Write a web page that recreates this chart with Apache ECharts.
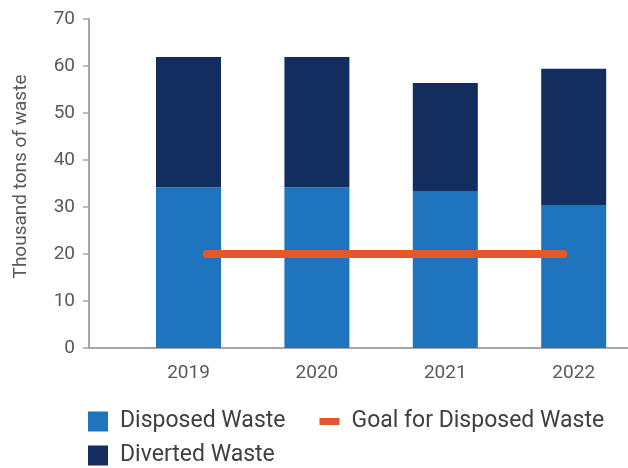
<!DOCTYPE html>
<html><head><meta charset="utf-8">
<script src="https://cdn.jsdelivr.net/npm/echarts@6/dist/echarts.min.js"></script>
<style>html,body{margin:0;padding:0;background:#fff}#c{width:628px;height:468px}</style>
</head><body><div id="c"></div>
<script>
const years = ['2019', '2020', '2021', '2022'];
const disposed = [34.2, 34.2, 33.4, 30.4];
const diverted = [27.7, 27.7, 23.0, 29.0];
const goalValue = 20;
const goalSpan = [0.14, 2.92]; // goal line runs between these category positions
const yMin = 0, yMax = 70, yStep = 10;

const FONT = 'Roboto';
const GREY = '#595959';
const AXIS = '#a6a6a6';

const chart = echarts.init(document.getElementById('c'), null, {renderer: 'canvas'});
chart.setOption({
  animation: false,
  textStyle: {fontFamily: FONT},
  grid: [
    {left: 89, right: 0, top: 19, bottom: 120, outerBoundsMode: 'none'},
    {left: 124.3, width: 513.6, top: 19, bottom: 120, outerBoundsMode: 'none'}
  ],
  xAxis: [{
    gridIndex: 0, type: 'value', min: -0.776, max: 3.423,
    splitLine: {show: false}, axisTick: {show: false}, axisLabel: {show: false},
    axisLine: {show: true, lineStyle: {color: AXIS, width: 2}}
  }, {
    gridIndex: 1, type: 'category', data: years,
    axisLine: {show: false}, axisTick: {show: false},
    axisLabel: {color: GREY, fontSize: 19, fontFamily: FONT, margin: 16}
  }],
  yAxis: [{
    gridIndex: 0, type: 'value', min: yMin, max: yMax, interval: yStep,
    name: 'Thousand tons of waste', nameLocation: 'middle', nameGap: 58,
    nameTextStyle: {color: GREY, fontSize: 19, fontFamily: FONT, padding: [0, 0, 0, 14]},
    splitLine: {show: false},
    axisLine: {show: true, onZero: false, lineStyle: {color: AXIS, width: 2}},
    axisTick: {show: true, length: 6, lineStyle: {color: AXIS, width: 1.5}},
    axisLabel: {color: GREY, fontSize: 19, fontFamily: FONT, margin: 14}
  }, {
    gridIndex: 1, type: 'value', min: yMin, max: yMax, interval: yStep, show: false
  }],
  legend: [{
    left: 88, top: 410, padding: 0, itemWidth: 20, itemHeight: 20, itemGap: 34,
    textStyle: {color: '#404040', fontSize: 23, lineHeight: 20, fontFamily: FONT, padding: [0, 0, 0, 7]},
    data: [
      {name: 'Disposed Waste', icon: 'rect'},
      {name: 'Goal for Disposed Waste', icon: 'path://M0,0 H20 V7 H0 Z'}
    ]
  }, {
    left: 88, top: 444, padding: 0, itemWidth: 20, itemHeight: 20,
    textStyle: {color: '#404040', fontSize: 23, lineHeight: 20, fontFamily: FONT, padding: [0, 0, 0, 7]},
    data: [{name: 'Diverted Waste', icon: 'rect'}]
  }],
  series: [{
    name: 'Disposed Waste', type: 'bar', stack: 'w', barWidth: 65,
    xAxisIndex: 1, yAxisIndex: 1,
    itemStyle: {color: '#1e74bd'},
    data: disposed
  }, {
    name: 'Diverted Waste', type: 'bar', stack: 'w', barWidth: 65,
    xAxisIndex: 1, yAxisIndex: 1,
    itemStyle: {color: '#132d5e'},
    data: diverted
  }, {
    name: 'Goal for Disposed Waste', type: 'line', symbol: 'none',
    xAxisIndex: 0, yAxisIndex: 0,
    lineStyle: {color: '#e4572a', width: 8, cap: 'round'},
    itemStyle: {color: '#e4572a'},
    data: goalSpan.map(x => [x, goalValue])
  }]
});
</script></body></html>
